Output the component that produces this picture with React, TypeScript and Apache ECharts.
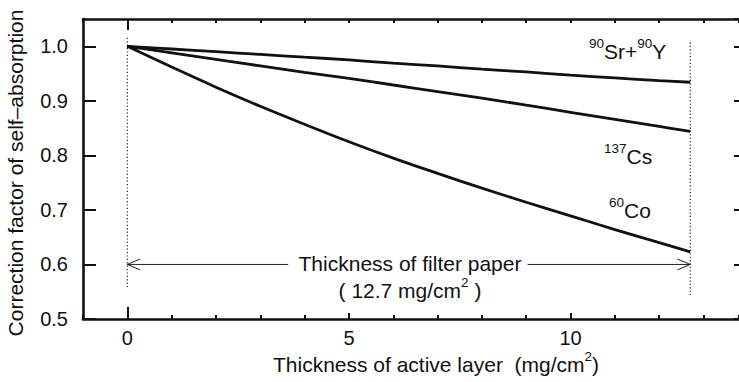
import React, { useEffect, useRef } from "react";
import * as echarts from "echarts";

// ---- data ----
const thickness = [0, 1, 2, 3, 4, 5, 6, 7, 8, 9, 10, 11, 12, 12.7];
const srY = [1.0, 0.995, 0.99, 0.985, 0.98, 0.975, 0.969, 0.964, 0.958, 0.953, 0.947, 0.942, 0.937, 0.934];
const cs137 = [1.0, 0.988, 0.976, 0.964, 0.952, 0.941, 0.929, 0.917, 0.905, 0.892, 0.879, 0.866, 0.853, 0.844];
const co60 = [1.0, 0.962, 0.925, 0.89, 0.857, 0.825, 0.795, 0.767, 0.74, 0.714, 0.689, 0.664, 0.64, 0.623];

const xLabelValues = [0, 5, 10];
const xMajorTicks = [5, 10];
const xZeroTick = [0];

const filterPaper = 12.7;
const arrowLevel = 0.6;
const leftDotted = [[0, 1.0155], [0, 0.5585]];
const rightDotted = [[filterPaper, 1.007], [filterPaper, 0.544]];
const leftShaft = [[3.63, arrowLevel], [0, arrowLevel]];
const leftHead = [[0.29, 0.61], [0, arrowLevel], [0.29, 0.59]];
const rightShaft = [[9.03, arrowLevel], [filterPaper, arrowLevel]];
const rightHead = [[12.41, 0.61], [filterPaper, arrowLevel], [12.41, 0.59]];

const X_MIN = -1;
const X_MAX = 13.8;
const Y_MIN = 0.5;
const Y_MAX = 1.05;

const FONT = "'Liberation Sans', Arial, Helvetica, sans-serif";
const INK = "#111";

export default function App() {
  const ref = useRef<HTMLDivElement>(null);

  useEffect(() => {
    if (!ref.current) return;
    const chart = echarts.init(ref.current, undefined, { renderer: "svg" });

    const pair = (ys: number[]) => thickness.map((x, i) => [x, ys[i]]);
    const curve = (name: string, ys: number[]) => ({
      name,
      type: "line",
      data: pair(ys),
      smooth: 0.4,
      showSymbol: false,
      symbol: "none",
      lineStyle: { color: INK, width: 2.8 },
      silent: true,
      z: 5,
    });
    const thin = (name: string, data: number[][], type: any, width = 1) => ({
      name,
      type: "line",
      data,
      showSymbol: false,
      symbol: "none",
      lineStyle: { color: "#222", width, type },
      silent: true,
      z: 4,
    });

    const baseX = {
      type: "value",
      min: X_MIN,
      max: X_MAX,
      splitLine: { show: false },
    };

    const rich = {
      m: { fontSize: 21, fontFamily: FONT, fill: INK, lineHeight: 31, verticalAlign: "middle" },
      s: { fontSize: 13.5, fontFamily: FONT, fill: INK, lineHeight: 14, verticalAlign: "top" },
    };
    const txt = (x: number, y: number, text: string, align = "left", extra: any = {}) => ({
      type: "text",
      x,
      y,
      silent: true,
      z: 10,
      ...extra,
      style: {
        text,
        rich,
        fontFamily: FONT,
        fontSize: 21,
        fill: INK,
        align,
        verticalAlign: "top",
      },
    });

    chart.setOption({
      animation: false,
      backgroundColor: "#fff",
      grid: { left: 83, right: 0, top: 19, bottom: 63, containLabel: false },
      xAxis: [
        {
          ...baseX,
          position: "bottom",
          interval: 1,
          axisLine: { show: true, onZero: false, lineStyle: { color: INK, width: 2.6 } },
          axisTick: { show: true, inside: true, length: 4, lineStyle: { color: INK, width: 2 } },
          axisLabel: {
            customValues: xLabelValues,
            fontSize: 20,
            fontFamily: FONT,
            color: INK,
            margin: 9,
          },
        },
        {
          ...baseX,
          position: "bottom",
          axisLine: { show: false, onZero: false },
          axisTick: { show: true, inside: true, length: 6, customValues: xMajorTicks, lineStyle: { color: INK, width: 2 } },
          axisLabel: { show: false },
        },
        {
          ...baseX,
          position: "bottom",
          axisLine: { show: false, onZero: false },
          axisTick: { show: true, inside: true, length: 12, customValues: xZeroTick, lineStyle: { color: INK, width: 2 } },
          axisLabel: { show: false },
        },
        {
          ...baseX,
          position: "top",
          interval: 1,
          axisLine: { show: true, onZero: false, lineStyle: { color: INK, width: 2.6 } },
          axisTick: { show: true, inside: true, length: 4, lineStyle: { color: INK, width: 2 } },
          axisLabel: { show: false },
        },
        {
          ...baseX,
          position: "top",
          axisLine: { show: false, onZero: false },
          axisTick: { show: true, inside: true, length: 11, customValues: xZeroTick, lineStyle: { color: INK, width: 2 } },
          axisLabel: { show: false },
        },
      ],
      yAxis: [
        {
          type: "value",
          position: "left",
          min: Y_MIN,
          max: Y_MAX,
          interval: 0.1,
          splitLine: { show: false },
          axisLine: { show: true, onZero: false, lineStyle: { color: INK, width: 2.6 } },
          axisTick: { show: true, inside: true, length: 13, lineStyle: { color: INK, width: 2 } },
          axisLabel: {
            fontSize: 20,
            fontFamily: FONT,
            color: INK,
            margin: 15,
            showMaxLabel: false,
            formatter: (v: number) => (Math.abs(v - 1.05) < 1e-6 ? "" : v.toFixed(1)),
          },
        },
        {
          type: "value",
          position: "right",
          min: Y_MIN,
          max: Y_MAX,
          interval: 0.1,
          splitLine: { show: false },
          axisLine: { show: false, onZero: false },
          axisTick: { show: true, inside: true, length: 5, lineStyle: { color: INK, width: 2 } },
          axisLabel: { show: false },
        },
      ],
      series: [
        curve("90Sr+90Y", srY),
        curve("137Cs", cs137),
        curve("60Co", co60),
        thin("left dotted", leftDotted, [1.2, 2.2], 1.2),
        thin("right dotted", rightDotted, [1.2, 2.2], 1.2),
        thin("left shaft", leftShaft, "solid"),
        thin("left head", leftHead, "solid"),
        thin("right shaft", rightShaft, "solid"),
        thin("right head", rightHead, "solid"),
      ],
      graphic: [
        txt(589, 36, "{s|90}{m|Sr+}{s|90}{m|Y}"),
        txt(604, 141, "{s|137}{m|Cs}"),
        txt(609, 195, "{s|60}{m|Co}"),
        {
          type: "text",
          x: 410,
          y: 263,
          silent: true,
          z: 10,
          style: {
            text: "Thickness of filter paper",
            fontFamily: FONT,
            fontSize: 21,
            fill: INK,
            align: "center",
            verticalAlign: "middle",
          },
        },
        txt(410, 275, "{m|( 12.7 mg/cm}{s|2}{m| )}", "center"),
        txt(436, 349, "{m|Thickness of active layer  (mg/cm}{s|2}{m|)}", "center"),
        {
          type: "text",
          x: 15,
          y: 173,
          rotation: Math.PI / 2,
          silent: true,
          z: 10,
          style: {
            text: "Correction factor of self\u2013absorption",
            fontFamily: FONT,
            fontSize: 21,
            fill: INK,
            align: "center",
            verticalAlign: "middle",
          },
        },
      ],
    });

    return () => chart.dispose();
  }, []);

  return (
    <div
      ref={ref}
      style={{ position: "fixed", left: 0, top: 0, width: 739, height: 382, background: "#fff" }}
    />
  );
}
